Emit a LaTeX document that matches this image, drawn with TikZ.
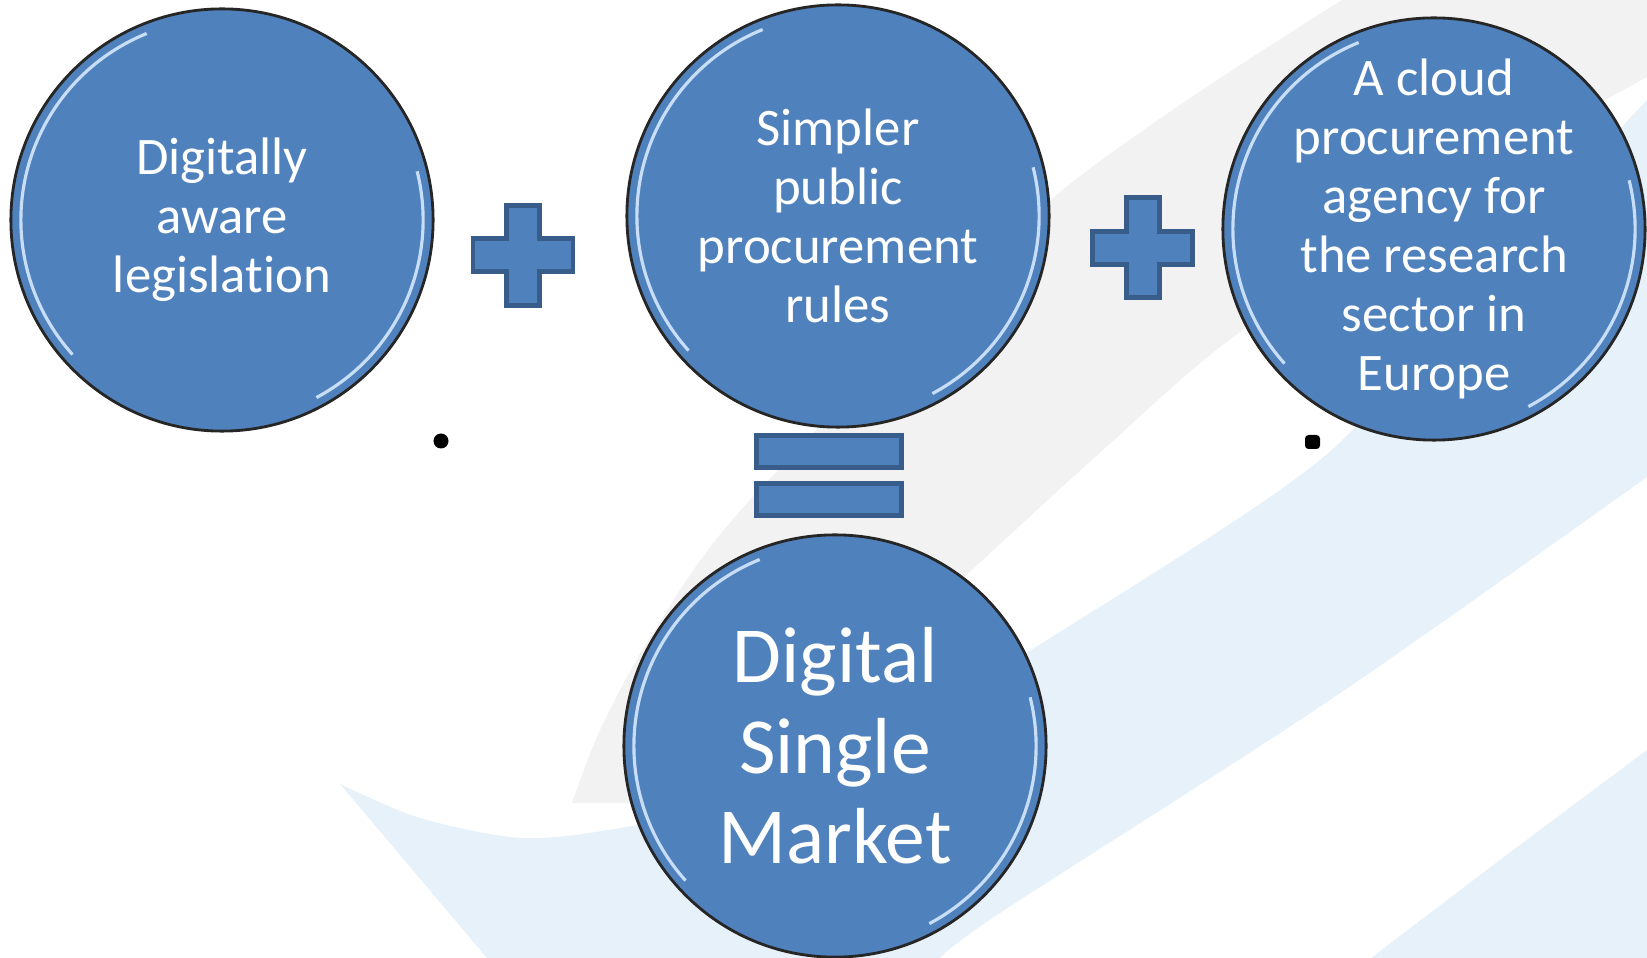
\documentclass[tikz,border=0pt]{standalone}
\usepackage{fontspec}
\setmainfont{Carlito}[Ligatures=NoCommon]
\usetikzlibrary{calc}
\definecolor{bubbleblue}{RGB}{79,129,189}
\definecolor{signedge}{RGB}{56,93,138}
\definecolor{swooshgray}{RGB}{242,242,242}
\definecolor{swooshblue}{RGB}{231,241,249}
\definecolor{shine}{RGB}{200,222,246}
\newcommand{\bubbleshine}[1]{%
  \draw[shine,line width=0.9pt] ($(#1.center)+(112:2.01cm)$) arc[start angle=112,end angle=222,radius=2.01cm];
  \draw[shine,line width=0.9pt] ($(#1.center)+(-62:2.01cm)$) arc[start angle=-62,end angle=14,radius=2.01cm];}

\begin{document}
\begin{tikzpicture}[x=0.01cm,y=-0.01cm,
	bubble/.style={circle,draw=black!85,line width=0.8pt,fill=bubbleblue,minimum size=4.22cm,inner sep=-1cm,align=center,text=white,font=\fontsize{15}{16.8}\selectfont},
	signshape/.style={fill=bubbleblue,draw=signedge,line width=1.42pt}]
		\useasboundingbox (0,0) rectangle (1647,958);
		% background swooshes
		\fill[swooshgray] plot[smooth] coordinates {(1342,0) (1054,197) (750,500) (653,633) (601,728) (572,803)} -- plot[smooth] coordinates {(720,803) (974,568) (1103,450) (1232,338) (1450,190) (1647,77)} -- (1647,0) -- cycle;
		\fill[swooshblue] (340,784) -- (487,958) -- plot[smooth] coordinates {(940,958) (1000,913) (1330,700) (1647,477)} -- plot[smooth] coordinates {(1647,100) (1470,290) (1320,460) (1031,650) (800,790) (626,827) (523,838) (420,818) (340,784)} -- cycle;
		\fill[swooshblue] plot[smooth] coordinates {(1371,958) (1500,860) (1647,750)} -- (1647,958) -- cycle;
		% the four bubbles
		\node[bubble] (legis) at (222,220) {Digitally\\aware\\legislation};
		\node[bubble] (rules) at (838,216) {Simpler\\public\\procurement\\rules};
		\node[bubble] (agency) at (1434,229) {A cloud\\procurement\\agency for\\the research\\sector in\\Europe};
		\node[bubble,font=\fontsize{22.6}{25.7}\selectfont] (market) at (835,746) {Digital\\Single\\Market};
		\foreach \n in {legis,rules,agency,market} {\bubbleshine{\n}}
		% plus and equals signs
		\foreach \cx/\cy in {523/255.5,1142.5/248}
			\draw[signshape] (\cx-16.5,\cy-50) -- ++(33,0) -- ++(0,33.5) -- ++(33.5,0) -- ++(0,33) -- ++(-33.5,0) -- ++(0,33.5) -- ++(-33,0) -- ++(0,-33.5) -- ++(-33.5,0) -- ++(0,-33) -- ++(33.5,0) -- cycle;
		\draw[signshape] (756.5,436) rectangle (901.5,468);
		\draw[signshape] (756.5,483.5) rectangle (901.5,516);
		% stray marks
		\fill (441,441) circle[radius=0.075cm];
		\fill[rounded corners=1pt] (1305,435) rectangle (1320,449);
\end{tikzpicture}
\end{document}
